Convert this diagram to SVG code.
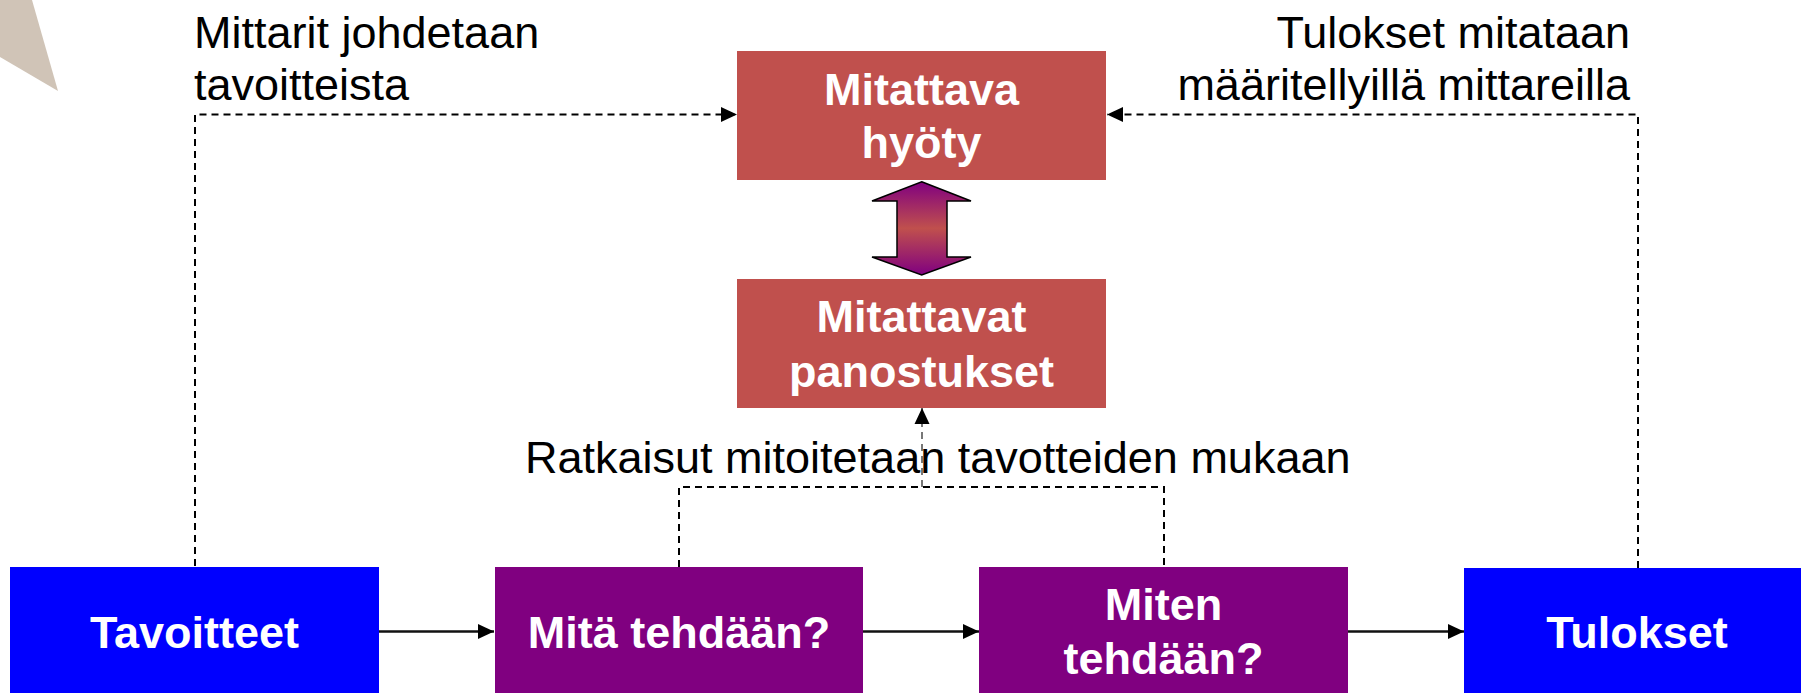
<svg xmlns="http://www.w3.org/2000/svg" width="1801" height="693" viewBox="0 0 1801 693">
<defs>
<style>
.lbl{font-family:"Liberation Sans",Arial,sans-serif;font-size:45px;fill:#000}
.nt{font-family:"Liberation Sans",Arial,sans-serif;font-size:45px;font-weight:bold;fill:#fff;text-anchor:middle}
.red{fill:#c0504d}
.blue{fill:#0000ff}
.purple{fill:#800080}
.dash{fill:none;stroke:#000;stroke-width:2;stroke-dasharray:7 5}
.solid{fill:none;stroke:#111;stroke-width:2.5}
</style>
<marker id="ah" markerUnits="userSpaceOnUse" markerWidth="16" markerHeight="16" viewBox="0 0 16 16" refX="16" refY="8" orient="auto">
<path d="M0,0.5 L16,8 L0,15.5 z" fill="#000"/>
</marker>
<linearGradient id="grad" x1="0" y1="0" x2="0" y2="1">
<stop offset="0" stop-color="#800080"/>
<stop offset="0.5" stop-color="#c0504d"/>
<stop offset="1" stop-color="#800080"/>
</linearGradient>
</defs>
<rect width="1801" height="693" fill="#fff"/>
<polygon points="0,0 32,0 58,91 0,57" fill="#d0c4b7"/>

<g id="connectors">
<path class="dash" d="M195,566 V114.5 H737" marker-end="url(#ah)"/>
<path class="dash" d="M1638,568 V114.5 H1107" marker-end="url(#ah)"/>
<path class="dash" d="M679,567 V487 H1164 V567"/>
<path class="dash" style="stroke:#777" d="M922,487 V408" marker-end="url(#ah)"/>
<path class="solid" d="M379,631.5 H494" marker-end="url(#ah)"/>
<path class="solid" d="M863,631.5 H979" marker-end="url(#ah)"/>
<path class="solid" d="M1348,631.5 H1464" marker-end="url(#ah)"/>
<polygon id="double-arrow" points="921.7,181.7 971,201 947,201 947,257 971,257 921.7,275 872,257 897,257 897,201 872,201" fill="url(#grad)" stroke="#000" stroke-width="1.5"/>
</g>

<g id="label-left">
<text class="lbl" x="194" y="48">Mittarit johdetaan</text>
<text class="lbl" x="194" y="100">tavoitteista</text>
</g>
<g id="label-right">
<text class="lbl" x="1630" y="48" text-anchor="end">Tulokset mitataan</text>
<text class="lbl" x="1630" y="100" text-anchor="end">määritellyillä mittareilla</text>
</g>
<g id="label-mid">
<text class="lbl" x="525" y="473">Ratkaisut mitoitetaan tavotteiden mukaan</text>
</g>

<g id="node-hyoty">
<rect class="red" x="737" y="51" width="369" height="129"/>
<text class="nt" x="921.5" y="105">Mitattava</text>
<text class="nt" x="921.5" y="158">hyöty</text>
</g>
<g id="node-panostukset">
<rect class="red" x="737" y="279" width="369" height="129"/>
<text class="nt" x="921.5" y="332">Mitattavat</text>
<text class="nt" x="921.5" y="387">panostukset</text>
</g>
<g id="node-tavoitteet">
<rect class="blue" x="10" y="567" width="369" height="126"/>
<text class="nt" x="194.5" y="648">Tavoitteet</text>
</g>
<g id="node-mita">
<rect class="purple" x="495" y="567" width="368" height="126"/>
<text class="nt" x="679" y="648">Mitä tehdään?</text>
</g>
<g id="node-miten">
<rect class="purple" x="979" y="567" width="369" height="126"/>
<text class="nt" x="1163.5" y="620">Miten</text>
<text class="nt" x="1163.5" y="674">tehdään?</text>
</g>
<g id="node-tulokset">
<rect class="blue" x="1464" y="568" width="337" height="125"/>
<text class="nt" x="1637" y="648">Tulokset</text>
</g>
</svg>
